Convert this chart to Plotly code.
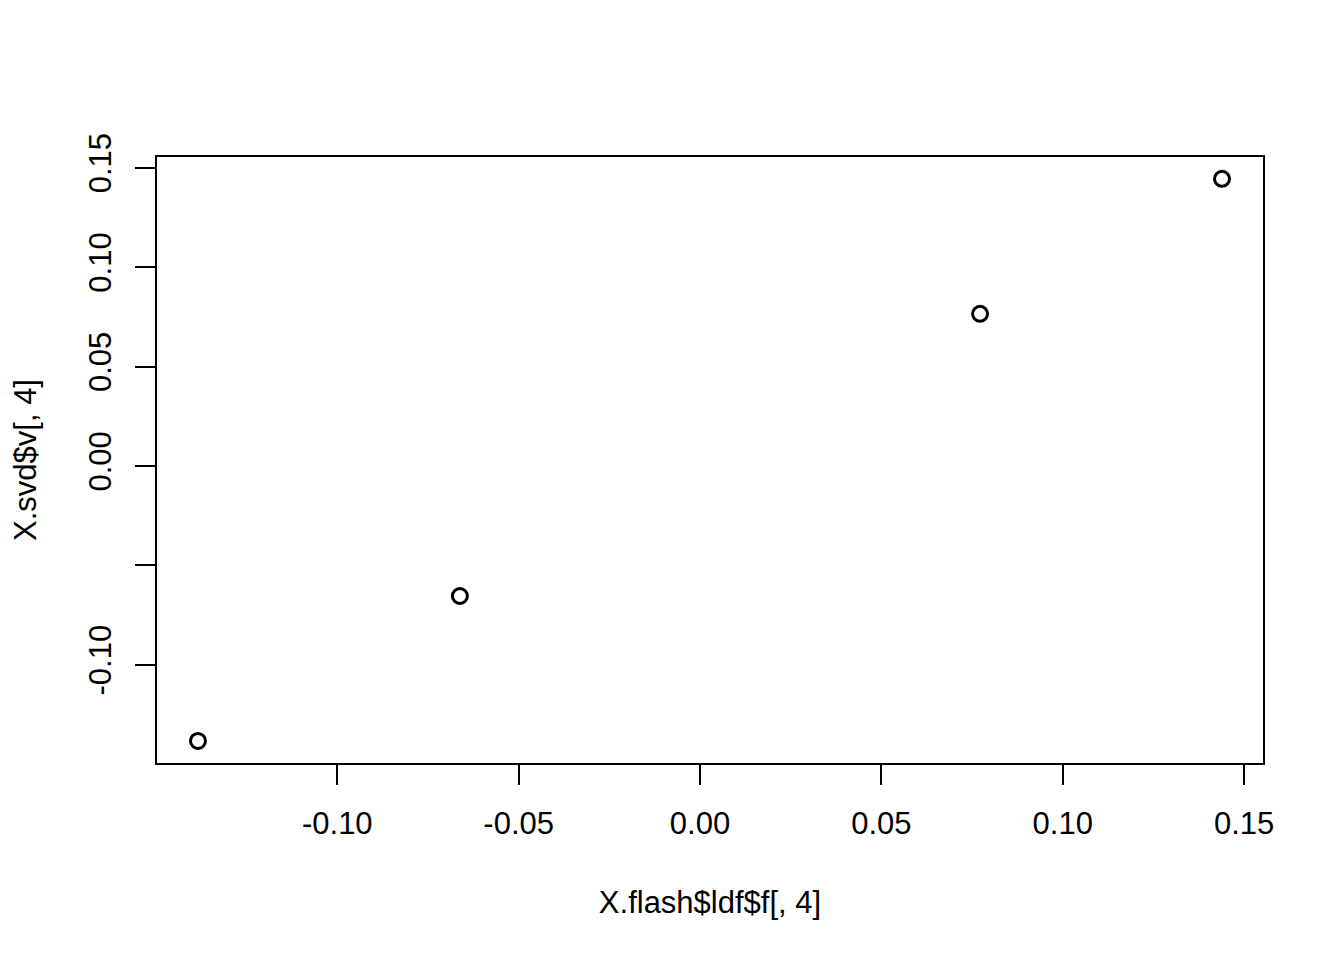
import plotly.graph_objects as go

x_vals = [-0.1384, -0.0662, 0.0772, 0.1439]
y_vals = [-0.1383, -0.0654, 0.0765, 0.1444]

x_ticks = [-0.10, -0.05, 0.00, 0.05, 0.10, 0.15]
x_tick_labels = ["-0.10", "-0.05", "0.00", "0.05", "0.10", "0.15"]
y_ticks = [-0.10, -0.05, 0.00, 0.05, 0.10, 0.15]
y_tick_labels = ["-0.10", "", "0.00", "0.05", "0.10", "0.15"]

x_title = "X.flash$ldf$f[, 4]"
y_title = "X.svd$v[, 4]"

font = dict(family="Liberation Sans, Arial, sans-serif", size=31, color="black")

fig = go.Figure()
fig.add_trace(go.Scatter(
    x=x_vals, y=y_vals, mode="markers",
    marker=dict(symbol="circle-open", size=15, color="black", line=dict(width=3, color="black")),
    showlegend=False, hoverinfo="skip",
))

fig.update_layout(
    width=1344, height=960,
    margin=dict(l=149, r=89, t=149, b=205),
    paper_bgcolor="white", plot_bgcolor="white",
    font=font,
    xaxis=dict(
        range=[-0.1497, 0.1552], tickvals=x_ticks, ticktext=x_tick_labels,
        showgrid=False, zeroline=False, showline=True, mirror=True,
        linecolor="black", linewidth=1.5,
        ticks="outside", ticklen=20, tickwidth=1.5, tickcolor="black",
        ticklabelstandoff=12,
        title=dict(text=x_title, standoff=51, font=font),
        tickfont=font,
    ),
    yaxis=dict(
        range=[-0.1494, 0.1554], tickvals=y_ticks, ticktext=y_tick_labels,
        showgrid=False, zeroline=False, showline=True, mirror=True,
        linecolor="black", linewidth=1.5,
        ticks="outside", ticklen=20, tickwidth=1.5, tickcolor="black",
        tickangle=-90, ticklabelstandoff=12,
        title=dict(text=y_title, standoff=41, font=font),
        tickfont=font,
    ),
)

fig.write_html("out.html")
